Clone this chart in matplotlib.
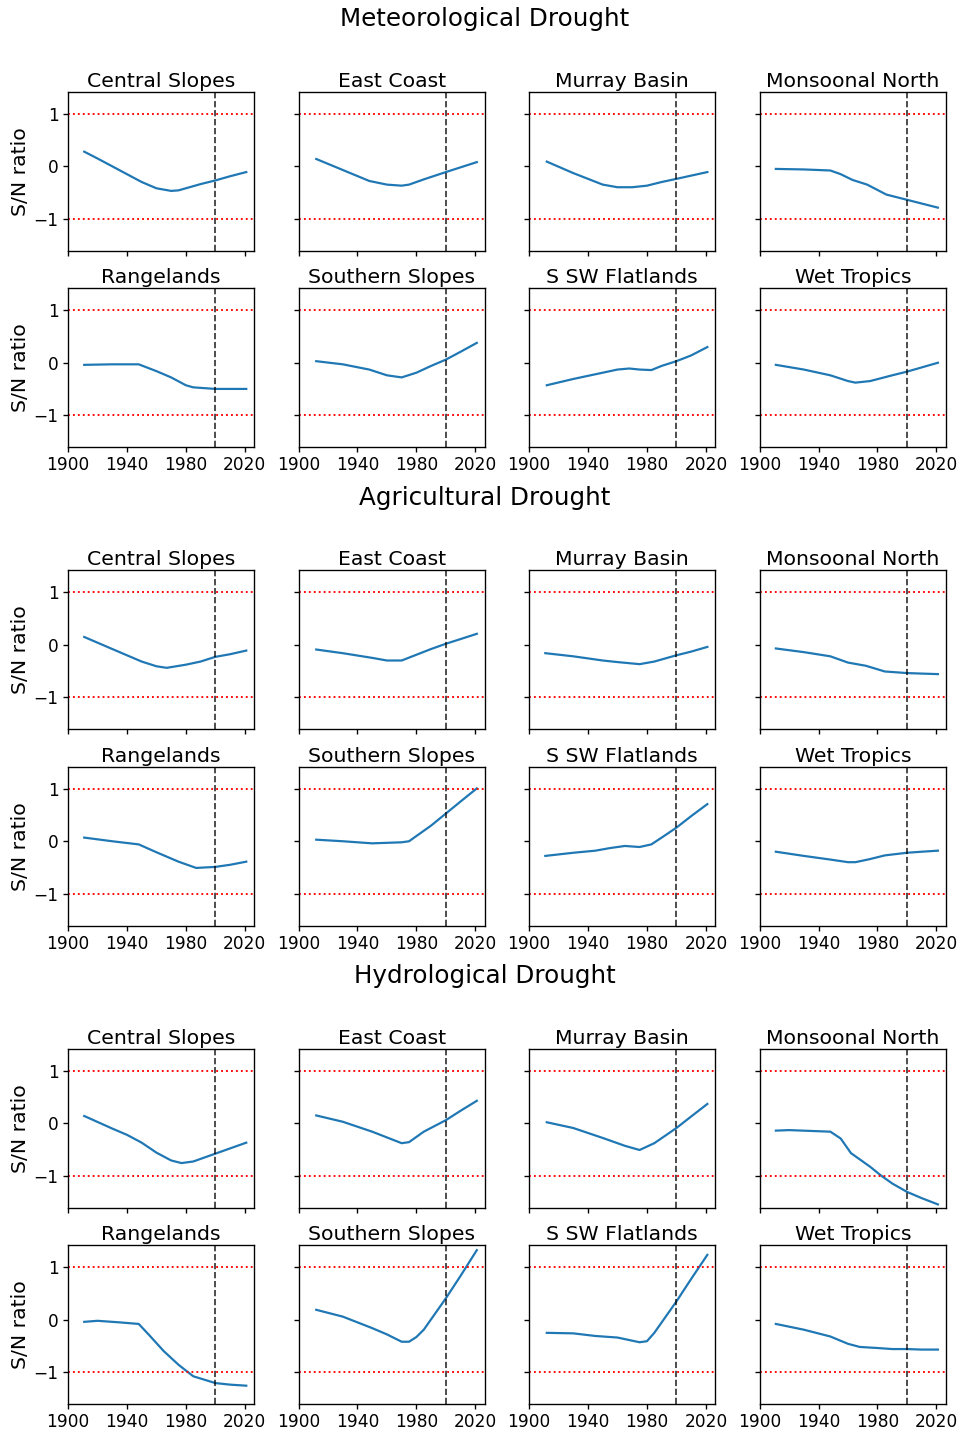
import matplotlib
matplotlib.use("Agg")
import matplotlib.pyplot as plt

regions = ["Central Slopes", "East Coast", "Murray Basin", "Monsoonal North",
           "Rangelands", "Southern Slopes", "S SW Flatlands", "Wet Tropics"]
sections = ["Meteorological Drought", "Agricultural Drought", "Hydrological Drought"]

# S/N ratio, (years, values) per region
met = {
    "Central Slopes": ([1911, 1920, 1940, 1950, 1960, 1970, 1975, 1980, 1990, 2000, 2010, 2021],
                       [0.28, 0.15, -0.15, -0.30, -0.42, -0.47, -0.46, -0.42, -0.34, -0.27, -0.19, -0.11]),
    "East Coast": ([1912, 1930, 1948, 1960, 1970, 1975, 1985, 2000, 2021],
                   [0.14, -0.07, -0.28, -0.35, -0.37, -0.35, -0.25, -0.11, 0.08]),
    "Murray Basin": ([1912, 1930, 1950, 1960, 1970, 1980, 1990, 2000, 2021],
                     [0.09, -0.13, -0.35, -0.40, -0.40, -0.37, -0.30, -0.24, -0.11]),
    "Monsoonal North": ([1911, 1930, 1948, 1955, 1963, 1973, 1986, 2000, 2021],
                        [-0.05, -0.06, -0.08, -0.15, -0.26, -0.35, -0.54, -0.64, -0.79]),
    "Rangelands": ([1911, 1930, 1948, 1960, 1970, 1980, 1985, 2000, 2021],
                   [-0.04, -0.03, -0.03, -0.16, -0.28, -0.43, -0.47, -0.50, -0.50]),
    "Southern Slopes": ([1912, 1930, 1948, 1960, 1970, 1980, 1990, 2000, 2010, 2021],
                        [0.03, -0.03, -0.13, -0.24, -0.28, -0.19, -0.06, 0.06, 0.21, 0.38]),
    "S SW Flatlands": ([1912, 1930, 1945, 1960, 1968, 1975, 1983, 1990, 2000, 2010, 2021],
                       [-0.43, -0.31, -0.22, -0.13, -0.11, -0.13, -0.14, -0.06, 0.03, 0.14, 0.30]),
    "Wet Tropics": ([1911, 1930, 1948, 1960, 1965, 1975, 1990, 2000, 2021],
                    [-0.04, -0.13, -0.24, -0.35, -0.38, -0.35, -0.24, -0.17, 0.0]),
}

agr = {
    "Central Slopes": ([1911, 1930, 1950, 1960, 1967, 1980, 1990, 2000, 2010, 2021],
                       [0.15, -0.08, -0.32, -0.41, -0.44, -0.38, -0.32, -0.23, -0.18, -0.11]),
    "East Coast": ([1912, 1930, 1950, 1960, 1970, 1980, 1990, 2000, 2010, 2021],
                   [-0.09, -0.16, -0.25, -0.30, -0.30, -0.19, -0.08, 0.02, 0.11, 0.21]),
    "Murray Basin": ([1911, 1930, 1950, 1960, 1975, 1985, 2000, 2010, 2021],
                     [-0.16, -0.22, -0.30, -0.33, -0.37, -0.32, -0.20, -0.13, -0.04]),
    "Monsoonal North": ([1911, 1930, 1948, 1960, 1972, 1985, 2000, 2010, 2021],
                        [-0.07, -0.14, -0.22, -0.34, -0.40, -0.51, -0.54, -0.55, -0.56]),
    "Rangelands": ([1911, 1930, 1948, 1960, 1975, 1987, 2000, 2010, 2021],
                   [0.07, 0.0, -0.06, -0.21, -0.39, -0.51, -0.49, -0.45, -0.39]),
    "Southern Slopes": ([1912, 1930, 1950, 1960, 1970, 1975, 1980, 1990, 2000, 2010, 2021],
                        [0.03, 0.0, -0.04, -0.03, -0.02, 0.0, 0.10, 0.30, 0.53, 0.76, 1.01]),
    "S SW Flatlands": ([1911, 1930, 1945, 1955, 1965, 1975, 1983, 1990, 2000, 2010, 2021],
                       [-0.28, -0.22, -0.18, -0.13, -0.09, -0.11, -0.06, 0.07, 0.26, 0.48, 0.71]),
    "Wet Tropics": ([1911, 1930, 1948, 1960, 1965, 1975, 1985, 2000, 2010, 2021],
                    [-0.20, -0.28, -0.35, -0.40, -0.40, -0.34, -0.27, -0.22, -0.20, -0.18]),
}

hyd = {
    "Central Slopes": ([1911, 1930, 1940, 1950, 1960, 1970, 1977, 1985, 2000, 2010, 2021],
                       [0.14, -0.10, -0.22, -0.37, -0.56, -0.71, -0.76, -0.73, -0.58, -0.48, -0.37]),
    "East Coast": ([1912, 1930, 1950, 1960, 1970, 1975, 1985, 2000, 2010, 2021],
                   [0.15, 0.03, -0.16, -0.27, -0.38, -0.36, -0.16, 0.06, 0.24, 0.43]),
    "Murray Basin": ([1912, 1930, 1950, 1965, 1975, 1985, 2000, 2010, 2021],
                     [0.02, -0.09, -0.28, -0.43, -0.51, -0.38, -0.09, 0.13, 0.37]),
    "Monsoonal North": ([1911, 1920, 1948, 1955, 1962, 1975, 1982, 1990, 2000, 2010, 2021],
                        [-0.14, -0.13, -0.16, -0.29, -0.57, -0.83, -0.99, -1.15, -1.31, -1.43, -1.55]),
    "Rangelands": ([1911, 1920, 1935, 1948, 1955, 1965, 1975, 1985, 2000, 2010, 2021],
                   [-0.04, -0.02, -0.05, -0.08, -0.29, -0.60, -0.86, -1.08, -1.21, -1.24, -1.26]),
    "Southern Slopes": ([1912, 1930, 1950, 1960, 1970, 1975, 1980, 1985, 2000, 2010, 2021],
                        [0.19, 0.06, -0.16, -0.28, -0.42, -0.42, -0.33, -0.19, 0.41, 0.84, 1.33]),
    "S SW Flatlands": ([1912, 1930, 1945, 1960, 1975, 1980, 1985, 1990, 2000, 2010, 2021],
                       [-0.25, -0.26, -0.31, -0.34, -0.43, -0.41, -0.25, -0.05, 0.35, 0.78, 1.24]),
    "Wet Tropics": ([1911, 1930, 1948, 1960, 1968, 1980, 1990, 2000, 2010, 2021],
                    [-0.08, -0.19, -0.32, -0.46, -0.52, -0.54, -0.56, -0.56, -0.57, -0.57]),
}

all_data = [met, agr, hyd]

plt.rcParams["xtick.major.size"] = 3
plt.rcParams["ytick.major.size"] = 3
plt.rcParams["xtick.major.pad"] = 2.5
plt.rcParams["ytick.major.pad"] = 2.5

W, H = 959, 1429
DPI = 122
fig = plt.figure(figsize=(W / DPI, H / DPI), dpi=DPI)

sec_h = 478.5
for s, (name, data) in enumerate(zip(sections, all_data)):
    off = s * sec_h
    gs = fig.add_gridspec(2, 4, left=68 / W, right=946 / W,
                          top=1 - (92 + off) / H, bottom=1 - (447 + off) / H,
                          wspace=0.237, hspace=0.239)
    fig.text(485 / W, 1 - (19 + off) / H, name, ha="center", va="center", fontsize=14.5)
    first = None
    for i, reg in enumerate(regions):
        r, c = divmod(i, 4)
        if first is None:
            ax = fig.add_subplot(gs[r, c])
            first = ax
        else:
            ax = fig.add_subplot(gs[r, c], sharex=first, sharey=first)
        yrs, vals = data[reg]
        ax.plot(yrs, vals, color="tab:blue", lw=1.3)
        ax.axhline(1, color="red", ls=":", lw=1.1)
        ax.axhline(-1, color="red", ls=":", lw=1.1)
        ax.axvline(2000, color="k", ls="--", lw=1, alpha=0.8)
        ax.set_title(reg, pad=3)
        ax.set_xlim(1900, 2026.5)
        ax.set_ylim(-1.61, 1.42)
        ax.set_xticks([1900, 1940, 1980, 2020])
        ax.set_yticks([-1, 0, 1])
        if c == 0:
            ax.set_ylabel("S/N ratio", fontsize=12, labelpad=2)
        else:
            ax.tick_params(labelleft=False)
        if r == 0:
            ax.tick_params(labelbottom=False)

fig.savefig("out.png", dpi=DPI)
